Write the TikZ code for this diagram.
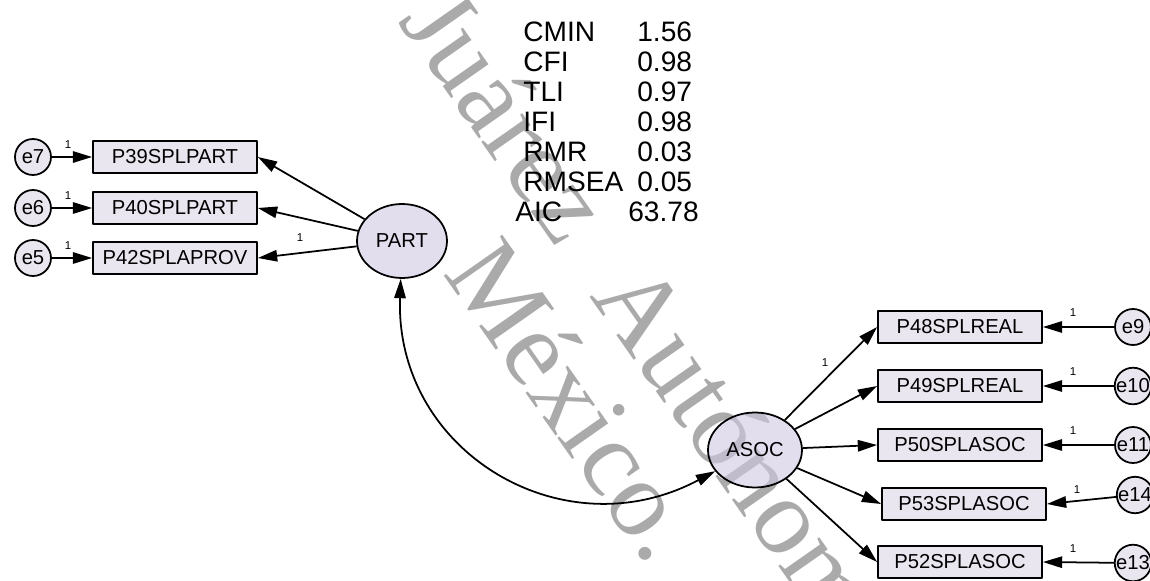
\documentclass[tikz,border=0pt]{standalone}
\usepackage{fontspec}
\setmainfont{Liberation Sans}
\newfontfamily\wmserif{Liberation Serif}
\usetikzlibrary{arrows.meta,shapes.geometric}
\definecolor{obsfill}{RGB}{233,230,240}
\definecolor{latfill}{RGB}{207,200,227}
\begin{document}
\begin{tikzpicture}[x=0.02cm,y=-0.02cm,>={Triangle[length=11pt,width=6.5pt]},line join=round,
	obs/.style={draw,line width=1pt,fill=obsfill,minimum width=3.28cm,minimum height=0.64cm,inner sep=0pt,font=\fontsize{11.5}{12}\selectfont},
	lat/.style={ellipse,draw,line width=1pt,fill=latfill,fill opacity=0.6,text opacity=1,draw opacity=1,inner sep=0pt,font=\fontsize{11.5}{12}\selectfont},
	err/.style={circle,draw,line width=1pt,fill=obsfill,minimum size=0.72cm,inner sep=0pt,font=\fontsize{11.5}{12}\selectfont},
	one/.style={font=\fontsize{6.5}{7}\selectfont,inner sep=0pt},
	fitidx/.style={font=\fontsize{16}{18}\selectfont,anchor=west,inner sep=0pt},
	wm/.style={font=\wmserif\fontsize{62}{62}\selectfont,text=gray!67,anchor=base west,rotate=-55,inner sep=0pt}]
			\useasboundingbox (0,0) rectangle (1150,581);
			\clip (0,0) rectangle (1150,581);
			% watermark
			\node[wm] (wm1) at (397,21) {Juárez\hspace{0.53em}Autónoma};
			\node[wm] (wm2) at (442,273) {México.};
			% fit indices
			\node[fitidx] (cmin) at (523,32) {CMIN};   \node[fitidx] (vcmin) at (637,32) {1.56};
			\node[fitidx] (cfi) at (523,62) {CFI};     \node[fitidx] (vcfi) at (637,62) {0.98};
			\node[fitidx] (tli) at (523,92) {TLI};     \node[fitidx] (vtli) at (637,92) {0.97};
			\node[fitidx] (ifi) at (523,122) {IFI};    \node[fitidx] (vifi) at (637,122) {0.98};
			\node[fitidx] (rmr) at (523,152) {RMR};    \node[fitidx] (vrmr) at (637,152) {0.03};
			\node[fitidx] (rmsea) at (523,182) {RMSEA};\node[fitidx] (vrmsea) at (637,182) {0.05};
			\node[fitidx] (aic) at (515,212) {AIC};    \node[fitidx] (vaic) at (628,212) {63.78};
			% PART
			\node[lat,minimum width=1.8cm,minimum height=1.48cm] (PART) at (402,241) {PART};
			\node[obs] (P39) at (175,157) {P39SPLPART};
			\node[obs] (P40) at (175,208) {P40SPLPART};
			\node[obs] (P42) at (175,258) {P42SPLAPROV};
			\node[err] (e7) at (33,157) {e7};
			\node[err] (e6) at (33,208) {e6};
			\node[err] (e5) at (33,258) {e5};
			\draw[->,line width=1pt](PART)--(P39.east);
			\draw[->,line width=1pt](PART)--(P40.east);
			\draw[->,line width=1pt](PART)--(P42.east);
			\draw[->,line width=1pt](e7)--(P39);
			\draw[->,line width=1pt](e6)--(P40);
			\draw[->,line width=1pt](e5)--(P42);
			\node[one] (l42) at (300,238) {1};
			\node[one] (l7) at (68,145) {1};
			\node[one] (l6) at (68,196) {1};
			\node[one] (l5) at (68,246) {1};
			% ASOC
			\node[lat,minimum width=1.88cm,minimum height=1.5cm] (ASOC) at (755,450) {ASOC};
			\node[obs] (P48) at (960,327) {P48SPLREAL};
			\node[obs] (P49) at (960,386) {P49SPLREAL};
			\node[obs] (P50) at (960,445) {P50SPLASOC};
			\node[obs] (P53) at (964,504) {P53SPLASOC};
			\node[obs] (P52) at (960,562) {P52SPLASOC};
			\node[err] (e9) at (1133,327) {e9};
			\node[err] (e10) at (1133,386) {e10};
			\node[err] (e11) at (1133,445) {e11};
			\node[err] (e14) at (1135,495) {e14};
			\node[err] (e13) at (1133,563) {e13};
			\draw[->,line width=1pt](ASOC)--(P48.west);
			\draw[->,line width=1pt](ASOC)--(P49.west);
			\draw[->,line width=1pt](ASOC)--(P50.west);
			\draw[->,line width=1pt](ASOC)--(P53.west);
			\draw[->,line width=1pt](ASOC)--(P52.west);
			\draw[->,line width=1pt](e9)--(P48.east);
			\draw[->,line width=1pt](e10)--(P49.east);
			\draw[->,line width=1pt](e11)--(P50.east);
			\draw[->,line width=1pt](e14)--(P53.east);
			\draw[->,line width=1pt](e13)--(P52.east);
			\node[one] (l48) at (825,363) {1};
			\node[one] (l9) at (1073,313) {1};
			\node[one] (l10) at (1073,372) {1};
			\node[one] (l11) at (1073,431) {1};
			\node[one] (l14) at (1077,490) {1};
			\node[one] (l13) at (1073,549) {1};
			% covariance
			\draw[<->,line width=1pt](PART) to[out=-92,in=208,looseness=1.2] (ASOC);
			\end{tikzpicture}
\end{document}
